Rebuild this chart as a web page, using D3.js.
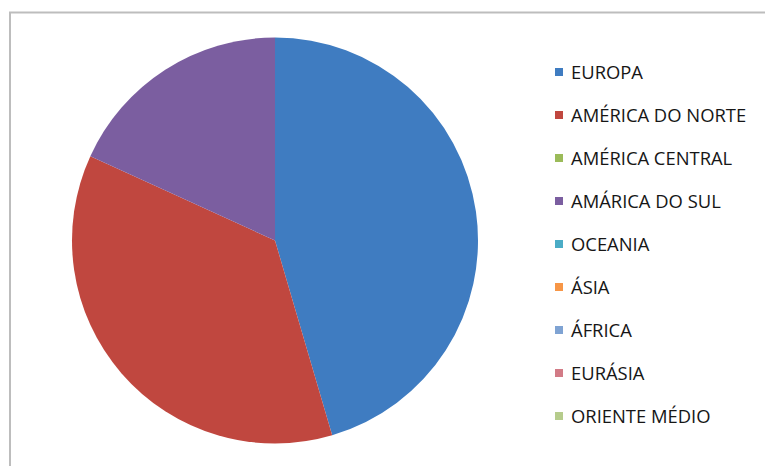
<!DOCTYPE html>
<html>
<head>
<meta charset="utf-8">
<script src="https://cdn.jsdelivr.net/npm/d3@7"></script>
<style>
  html, body { margin: 0; padding: 0; background: #ffffff; }
  svg { display: block; }
</style>
</head>
<body>
<svg id="chart" width="765" height="466"></svg>
<script>
// Regions and their counts
const regions = ["EUROPA", "AMÉRICA DO NORTE", "AMÉRICA CENTRAL", "AMÁRICA DO SUL", "OCEANIA", "ÁSIA", "ÁFRICA", "EURÁSIA", "ORIENTE MÉDIO"];
const counts = [5, 4, 0, 2, 0, 0, 0, 0, 0];
const palette = ["#3f7cc1", "#c0473f", "#9bbb59", "#7b5ea0", "#4bacc6", "#f79646", "#7fa3d3", "#d27b86", "#b6cc8c"];

const svg = d3.select("#chart");

// chart area frame
svg.append("rect")
  .attr("x", 10).attr("y", 12.5)
  .attr("width", 800).attr("height", 500)
  .attr("fill", "#ffffff")
  .attr("stroke", "#bdbdbd")
  .attr("stroke-width", 2);

const data = regions.map((name, i) => ({ name, value: counts[i], color: palette[i] }));

const pie = d3.pie().value(d => d.value).sort(null);
const arc = d3.arc().innerRadius(0).outerRadius(203);

const g = svg.append("g").attr("transform", "translate(275,240.5)");
g.selectAll("path")
  .data(pie(data).filter(d => d.data.value > 0))
  .join("path")
  .attr("d", arc)
  .attr("fill", d => d.data.color);

// legend
const y = d3.scalePoint().domain(regions).range([72, 416]);
const legend = svg.append("g");
const item = legend.selectAll("g").data(data).join("g")
  .attr("transform", d => `translate(555,${y(d.name)})`);
item.append("rect")
  .attr("x", 0).attr("y", -4)
  .attr("width", 8).attr("height", 8)
  .attr("fill", d => d.color);
item.append("text")
  .attr("x", 16).attr("y", 0)
  .attr("dy", "0.36em")
  .attr("font-family", "'Open Sans', sans-serif")
  .attr("font-size", 18.4)
  .attr("fill", "#161616")
  .text(d => d.name);
</script>
</body>
</html>
